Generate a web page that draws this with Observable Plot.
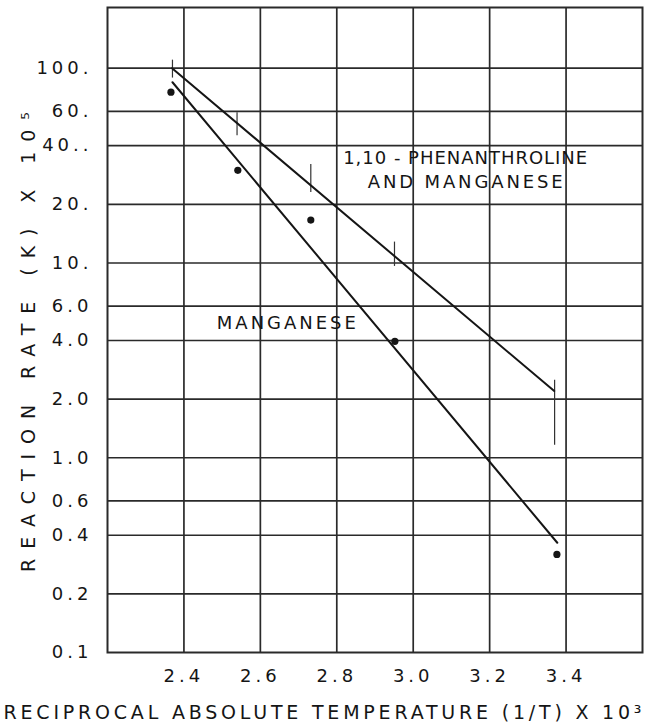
<!DOCTYPE html>
<html><head><meta charset="utf-8">
<script src="https://cdn.jsdelivr.net/npm/d3@7"></script>
<script src="https://cdn.jsdelivr.net/npm/@observablehq/plot@0.6"></script>
<style>
html,body{margin:0;padding:0;background:#fff;}
</style></head><body><div id="chart"></div>
<script>
// Gridlines / tick labels
const yGridValues = [100, 60, 40, 20, 10, 6, 4, 2, 1, 0.6, 0.4, 0.2, 0.1];
const yTickLabels = ["100.", "60.", "40..", "20.", "10.", "6.0", "4.0", "2.0", "1.0", "0.6", "0.4", "0.2", "0.1"];
const xGridValues = [2.4, 2.6, 2.8, 3.0, 3.2, 3.4];
const xTickLabels = ["2.4", "2.6", "2.8", "3.0", "3.2", "3.4"];

// Manganese measured points
const mnPointX = [2.366, 2.541, 2.732, 2.952, 3.376];
const mnPointY = [75.3, 29.9, 16.6, 3.96, 0.319];

// Fitted lines (end points)
const mnLineX = [2.370, 3.377];
const mnLineY = [84.7, 0.366];
const phenLineX = [2.369, 3.369];
const phenLineY = [100, 2.20];

// 1,10-phenanthroline and manganese: range bars
const phenBarX = [2.370, 2.539, 2.732, 2.951, 3.370];
const phenBarLow = [89, 45, 23, 9.6, 1.16];
const phenBarHigh = [110, 59, 32, 12.8, 2.5];

// Annotations
const noteText = ["1,10 - PHENANTHROLINE", "AND MANGANESE", "MANGANESE"];
const noteX = [3.136, 3.136, 2.668];
const noteY = [34.5, 25.9, 4.9];

const yTitle = "REACTION RATE (K) X 10⁵";
const xTitle = "RECIPROCAL ABSOLUTE TEMPERATURE (1/T) X 10³";

const pts = mnPointX.map((x, i) => ({x, y: mnPointY[i]}));
const mnLine = mnLineX.map((x, i) => ({x, y: mnLineY[i]}));
const phenLine = phenLineX.map((x, i) => ({x, y: phenLineY[i]}));
const bars = phenBarX.map((x, i) => ({x, lo: phenBarLow[i], hi: phenBarHigh[i]}));
const notes = noteText.map((t, i) => ({t, x: noteX[i], y: noteY[i]}));
const yTicks = yGridValues.map((v, i) => ({v, t: yTickLabels[i]}));

const ink = "#151515";

const plot = Plot.plot({
  width: 646,
  height: 725,
  marginLeft: 107,
  marginRight: 4,
  marginTop: 7,
  marginBottom: 73,
  style: {fontFamily: "DejaVu Sans", fontSize: "18px", color: ink, background: "#fff"},
  x: {
    domain: [2.2, 3.6],
    ticks: xGridValues,
    tickFormat: d => xTickLabels[xGridValues.indexOf(d)],
    tickSize: 0,
    tickPadding: 17,
    label: null
  },
  y: {
    type: "log",
    domain: [0.1, 205],
    axis: null
  },
  marks: [
    Plot.ruleY(yGridValues.slice(0, -1), {stroke: "#2a2a2a", strokeWidth: 1.7}),
    Plot.ruleX(xGridValues, {stroke: "#2a2a2a", strokeWidth: 1.7}),
    Plot.frame({stroke: "#2a2a2a", strokeWidth: 2}),
    Plot.text(yTicks, {y: "v", text: "t", frameAnchor: "left", dx: -15, textAnchor: "end", fontSize: 18, fill: ink}),
    Plot.ruleX(bars, {x: "x", y1: "lo", y2: "hi", stroke: "#333", strokeWidth: 1.2}),
    Plot.line(phenLine, {x: "x", y: "y", stroke: ink, strokeWidth: 2}),
    Plot.line(mnLine, {x: "x", y: "y", stroke: ink, strokeWidth: 2}),
    Plot.dot(pts, {x: "x", y: "y", r: 3.6, fill: ink, stroke: "none"}),
    Plot.text(notes, {x: "x", y: "y", text: "t", fontSize: 18, fill: ink, textAnchor: "middle", lineAnchor: "middle"}),
    Plot.text([yTitle], {frameAnchor: "left", rotate: -90, dx: -79, dy: 12, fontSize: 19, fill: ink, textAnchor: "middle", lineAnchor: "middle"}),
    Plot.text([xTitle], {frameAnchor: "bottom", dx: -52.5, dy: 60, fontSize: 19, fill: ink, textAnchor: "middle", lineAnchor: "middle"})
  ]
});

plot.style.letterSpacing = "4px";
const widths = new Map([
  [noteText[0], 244], [noteText[1], 195], [noteText[2], 139],
  [yTitle, 460], [xTitle, 638]
]);
d3.select(plot).selectAll("text").each(function() {
  const w = widths.get(this.textContent);
  if (w) {
    this.style.letterSpacing = "0px";
    this.setAttribute("textLength", w);
    this.setAttribute("lengthAdjust", "spacing");
  }
});
document.getElementById("chart").appendChild(plot);
</script>
</body></html>
